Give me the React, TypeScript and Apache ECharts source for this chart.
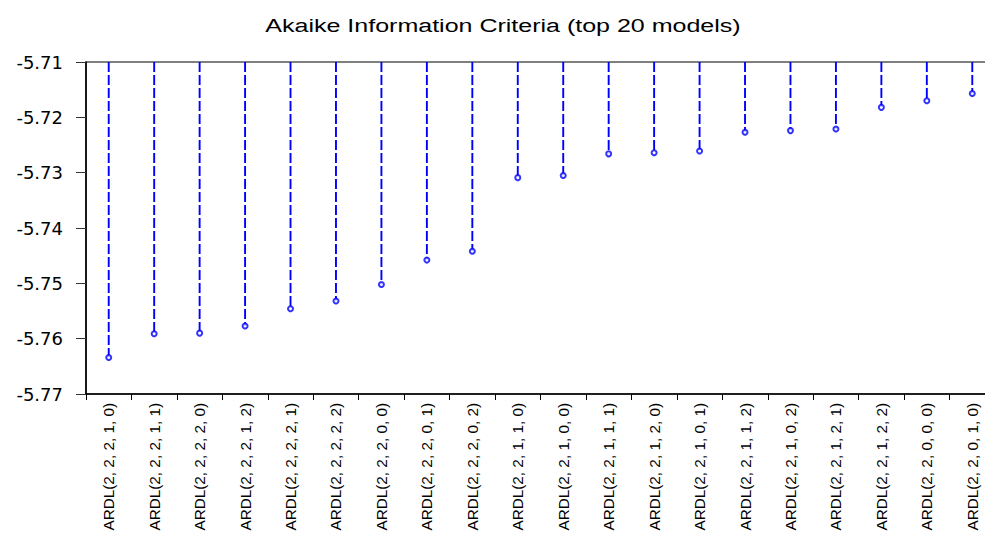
import React, { useEffect, useRef } from "react";
import * as echarts from "echarts";

const categories = [
  "ARDL(2, 2, 2, 1, 0)",
  "ARDL(2, 2, 2, 1, 1)",
  "ARDL(2, 2, 2, 2, 0)",
  "ARDL(2, 2, 2, 1, 2)",
  "ARDL(2, 2, 2, 2, 1)",
  "ARDL(2, 2, 2, 2, 2)",
  "ARDL(2, 2, 2, 0, 0)",
  "ARDL(2, 2, 2, 0, 1)",
  "ARDL(2, 2, 2, 0, 2)",
  "ARDL(2, 2, 1, 1, 0)",
  "ARDL(2, 2, 1, 0, 0)",
  "ARDL(2, 2, 1, 1, 1)",
  "ARDL(2, 2, 1, 2, 0)",
  "ARDL(2, 2, 1, 0, 1)",
  "ARDL(2, 2, 1, 1, 2)",
  "ARDL(2, 2, 1, 0, 2)",
  "ARDL(2, 2, 1, 2, 1)",
  "ARDL(2, 2, 1, 2, 2)",
  "ARDL(2, 2, 0, 0, 0)",
  "ARDL(2, 2, 0, 1, 0)",
];

const aicValues = [
  -5.7634, -5.7591, -5.759, -5.7577, -5.7546, -5.7532, -5.7502, -5.7458,
  -5.7442, -5.7309, -5.7305, -5.7266, -5.7264, -5.7261, -5.7227, -5.7224,
  -5.7221, -5.7182, -5.717, -5.7157,
];

const yMin = -5.77;
const yMax = -5.71;
const yStep = 0.01;

const titleText = "Akaike Information Criteria (top 20 models)";

export default function App() {
  const ref = useRef<HTMLDivElement>(null);

  useEffect(() => {
    document.body.style.margin = "0";
    if (!ref.current) return;
    const chart = echarts.init(ref.current, undefined, { renderer: "svg" });
    const points = aicValues.map((v, i) => [i, v]);
    chart.setOption({
      animation: false,
      backgroundColor: "#ffffff",
      graphic: [
        {
          type: "text",
          x: 503,
          y: 26,
          scaleX: 1.39,
          style: {
            text: titleText,
            fontSize: 18,
            fontFamily: "Liberation Sans, Arial, sans-serif",
            fill: "#000000",
            align: "center",
            verticalAlign: "middle",
          },
        },
      ],
      grid: {
        left: 86,
        top: 62,
        width: 909,
        height: 332,
        containLabel: false,
        outerBoundsMode: "none",
        show: true,
        borderColor: "#000000",
        borderWidth: 1.2,
        backgroundColor: "transparent",
      },
      xAxis: {
        type: "category",
        data: categories,
        boundaryGap: true,
        axisLine: { show: true, lineStyle: { color: "#000000", width: 1.5 } },
        axisTick: {
          show: true,
          alignWithLabel: false,
          length: 6,
          interval: 0,
          lineStyle: { color: "#000000" },
        },
        axisLabel: {
          interval: 0,
          rotate: 90,
          margin: 9,
          fontSize: 15.3,
          fontFamily: "Liberation Sans, Arial, sans-serif",
          color: "#000000",
        },
        splitLine: { show: false },
      },
      yAxis: {
        type: "value",
        min: yMin,
        max: yMax,
        interval: yStep,
        axisLine: { show: true, lineStyle: { color: "#000000", width: 1.5 } },
        axisTick: { show: true, length: 10, lineStyle: { color: "#333333" } },
        axisLabel: {
          margin: 23,
          fontSize: 18,
          fontFamily: "DejaVu Sans, sans-serif",
          color: "#000000",
          padding: [0, 0, 6, 0],
          formatter: (v: number) => v.toFixed(2),
        },
        splitLine: { show: false },
      },
      series: [
        {
          type: "custom",
          data: points,
          z: 2,
          renderItem: (params: any, api: any) => {
            const i = api.value(0);
            const v = api.value(1);
            const top = api.coord([i, yMax]);
            const p = api.coord([i, v]);
            return {
              type: "line",
              shape: { x1: top[0], y1: top[1], x2: p[0], y2: p[1] },
              style: {
                stroke: "#0000ff",
                lineWidth: 1.9,
                lineDash: [10, 3],
              },
            };
          },
        },
        {
          type: "scatter",
          data: points,
          z: 3,
          symbol: "emptyCircle",
          symbolSize: 5,
          itemStyle: { color: "#0000ff", borderColor: "#0000ff", borderWidth: 1.3 },
        },
      ],
    });
    return () => chart.dispose();
  }, []);

  return <div ref={ref} style={{ width: 985, height: 534 }} />;
}
